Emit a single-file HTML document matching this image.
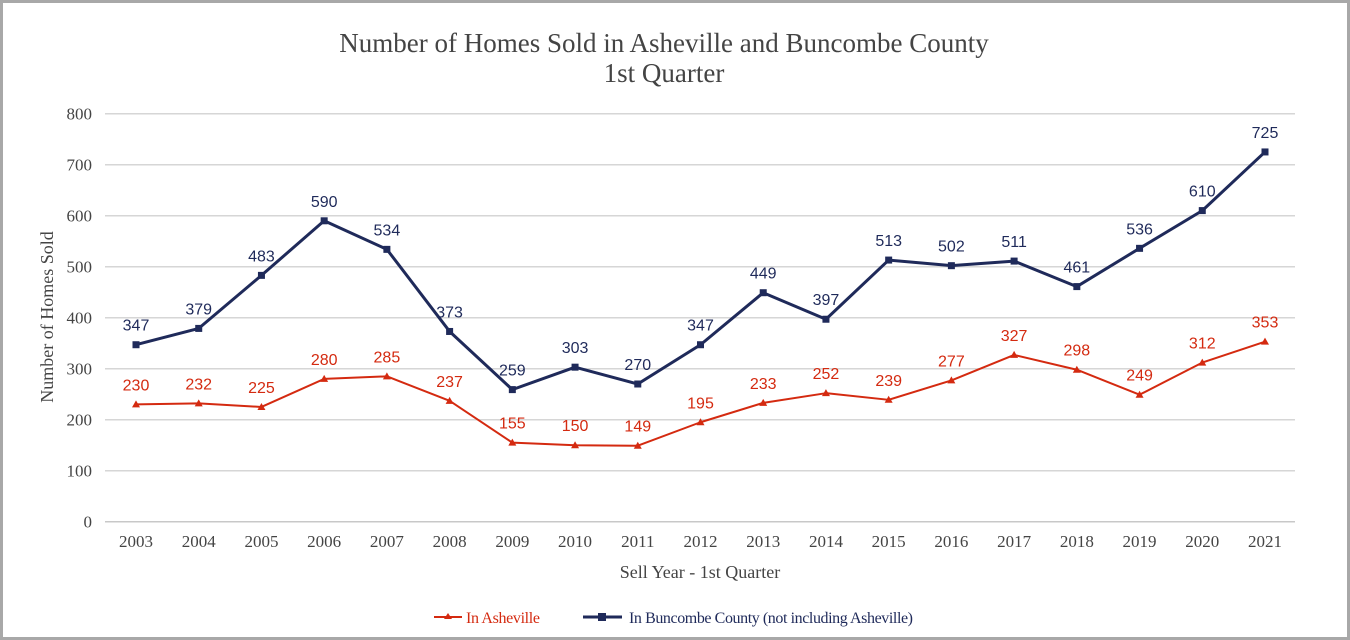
<!DOCTYPE html>
<html><head><meta charset="utf-8"><style>
html,body{margin:0;padding:0;background:#fff;}
svg{display:block;}
.serif{font-family:"Liberation Serif",serif;}
.sans{font-family:"Liberation Sans",sans-serif;}
</style></head><body>
<svg id="chart" width="1350" height="640" viewBox="0 0 1350 640">
<rect x="1.5" y="1.5" width="1347" height="637" fill="#fff" stroke="#a8a8a8" stroke-width="3"/>
<text class="serif" x="664" y="52" text-anchor="middle" font-size="27" fill="#444">Number of Homes Sold in Asheville and Buncombe County</text>
<text class="serif" x="664" y="82" text-anchor="middle" font-size="27" fill="#444">1st Quarter</text>
<text class="serif" transform="translate(53,317) rotate(-90)" text-anchor="middle" font-size="18" fill="#444">Number of Homes Sold</text>
<text class="serif" x="700" y="578" text-anchor="middle" font-size="18" fill="#444">Sell Year - 1st Quarter</text>
<g id="grid"></g><g id="xlabels"></g><g id="series"></g>
<g>
<g>
<line x1="434" y1="617" x2="462" y2="617" stroke="#d42a10" stroke-width="2"/>
<path d="M448,613 L452,619 L444,619 Z" fill="#d42a10"/>
<text class="serif" x="466" y="623" font-size="16" fill="#d42a10" textLength="74">In Asheville</text></g>
<g>
<line x1="583" y1="617" x2="622" y2="617" stroke="#1f2a5a" stroke-width="3"/>
<rect x="598" y="613" width="8" height="8" fill="#1f2a5a"/>
<text class="serif" x="629" y="623" font-size="16" fill="#1f2a5a" textLength="284">In Buncombe County (not including Asheville)</text></g>
</g>
</svg>
<script>
const years=["2003","2004","2005","2006","2007","2008","2009","2010","2011","2012","2013","2014","2015","2016","2017","2018","2019","2020","2021"];
const asheville=[230,232,225,280,285,237,155,150,149,195,233,252,239,277,327,298,249,312,353];
const buncombe=[347,379,483,590,534,373,259,303,270,347,449,397,513,502,511,461,536,610,725];
const yTicks=[0,100,200,300,400,500,600,700,800];
const NS='http://www.w3.org/2000/svg';
const x0=136,x1=1265,yBase=521.7,yPer=0.51;
const X=i=>x0+i*(x1-x0)/(years.length-1);
const Y=v=>yBase-v*yPer;
function mk(tag,attrs,parent,txt){const e=document.createElementNS(NS,tag);for(const k in attrs)e.setAttribute(k,attrs[k]);if(txt!==undefined)e.textContent=txt;parent.appendChild(e);return e;}
const grid=document.getElementById('grid');
yTicks.forEach(t=>{
 const l=mk('line',{x1:105,x2:1295,y1:Y(t),y2:Y(t),stroke:t===0?'#c8c8c8':'#d6d6d6','stroke-width':1.5},grid);
 
 
 const tx=mk('text',{x:92,y:Y(t)+6,'text-anchor':'end','font-size':17,fill:'#444',class:'serif'},grid,String(t));
 
 
});
const xl=document.getElementById('xlabels');
years.forEach((y,i)=>{
 const t=mk('text',{x:X(i),y:547,'text-anchor':'middle','font-size':17,fill:'#444',class:'serif'},xl,y);
 
 
});
const sg=document.getElementById('series');
function drawSeries(vals,color,width,marker,name){
 const g=mk('g',{},sg);
 
 
 const p=mk('polyline',{points:vals.map((v,i)=>X(i)+','+Y(v)).join(' '),fill:'none',stroke:color,'stroke-width':width,'stroke-linejoin':'round'},g);
 
 
 vals.forEach((v,i)=>{
  const cx=X(i),cy=Y(v);
  let m;
  if(marker==='square')m=mk('rect',{x:cx-3.5,y:cy-3.5,width:7,height:7,fill:color},g);
  else m=mk('path',{d:`M${cx},${cy-4} L${cx+4},${cy+3} L${cx-4},${cy+3} Z`,fill:color},g);
  
  
  const t=mk('text',{x:cx,y:cy-14,'text-anchor':'middle','font-size':16,fill:color,class:'sans'},g,String(v));
  
  
 });
}
drawSeries(asheville,'#d42a10',2,'triangle','asheville-series');
drawSeries(buncombe,'#1f2a5a',3,'square','buncombe-series');
</script>
</body></html>
